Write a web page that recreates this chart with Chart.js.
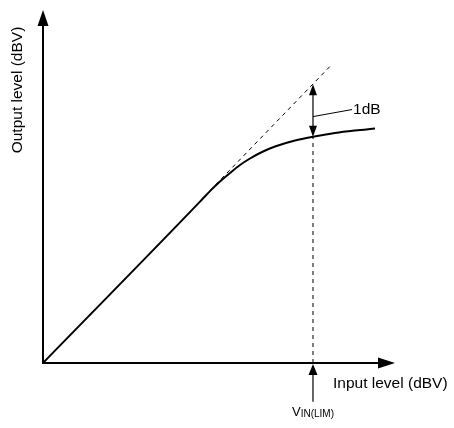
<!DOCTYPE html>
<html>
<head>
<meta charset="utf-8">
<script src="https://cdn.jsdelivr.net/npm/chart.js@4/dist/chart.umd.min.js"></script>
<style>
html,body{margin:0;padding:0;background:#fff;}
#wrap{width:454px;height:428px;}
</style>
</head>
<body>
<div id="wrap"><canvas id="c" width="454" height="428"></canvas></div>
<script>
// Transfer curve (arbitrary dB units)
const inputLevel  = [0, 44.6, 47.44, 50.28, 53.13, 55.97, 58.81, 62.22, 65.91, 71.59, 76.7, 82.95, 88.64, 94.32];
const outputLevel = [0, 45.7, 48.7, 51.41, 53.82, 56.09, 57.93, 59.77, 61.33, 63.03, 64.1, 65.16, 65.86, 66.43];
// Ideal (linear) extrapolation
const idealInput  = [47.5, 81.5];
const idealOutput = [48.9, 84.0];
// 1dB compression point
const limitInput = 76.7;
const limitOutput = 64.1;
const limitIdeal = 79.0;
const axisLabels = { x: 'Input level (dBV)', y: 'Output level (dBV)' };
const markLabel = '1dB';
const limitLabelMain = 'V';
const limitLabelSub = 'IN(LIM)';
const leaderStart = [76.7, 69.8];
const leaderEnd = [87.8, 71.8];
const bottomArrowEnd = -11;

const FONT = '"Liberation Sans", Arial, sans-serif';

function arrowHead(ctx, tx, ty, dx, dy, len, half) {
  const bx = tx - dx * len, by = ty - dy * len;
  const px = -dy, py = dx;
  ctx.beginPath();
  ctx.moveTo(tx, ty);
  ctx.lineTo(bx + px * half, by + py * half);
  ctx.lineTo(bx - px * half, by - py * half);
  ctx.closePath();
  ctx.fill();
}

const annot = {
  id: 'annot',
  afterDatasetsDraw(chart) {
    const ctx = chart.ctx;
    const xs = chart.scales.x, ys = chart.scales.y;
    const X = v => xs.getPixelForValue(v), Y = v => ys.getPixelForValue(v);
    ctx.save();
    ctx.strokeStyle = '#000';
    ctx.fillStyle = '#000';
    ctx.setLineDash([]);
    // axes
    const x0 = X(0), y0 = Y(0), xTip = X(xs.max), yTip = Y(ys.max);
    ctx.lineWidth = 2;
    ctx.beginPath();
    ctx.moveTo(x0, y0); ctx.lineTo(x0, yTip + 10);
    ctx.moveTo(x0 - 1, y0); ctx.lineTo(xTip - 10, y0);
    ctx.stroke();
    arrowHead(ctx, x0, yTip, 0, -1, 16, 5.5);
    arrowHead(ctx, xTip, y0, 1, 0, 17, 5.5);

    // double arrow for 1dB
    const lx = X(limitInput);
    const yTop = Y(limitIdeal), yBot = Y(limitOutput);
    ctx.lineWidth = 1.2;
    ctx.beginPath();
    ctx.moveTo(lx, yTop + 8); ctx.lineTo(lx, yBot - 8);
    ctx.stroke();
    arrowHead(ctx, lx, yTop, 0, -1, 11, 4);
    arrowHead(ctx, lx, yBot, 0, 1, 11, 4);

    // leader line
    ctx.lineWidth = 1;
    ctx.beginPath();
    ctx.moveTo(X(leaderStart[0]), Y(leaderStart[1]));
    ctx.lineTo(X(leaderEnd[0]), Y(leaderEnd[1]));
    ctx.stroke();

    // bottom arrow
    const yb = Y(bottomArrowEnd);
    ctx.lineWidth = 1.2;
    ctx.beginPath();
    ctx.moveTo(lx, yb); ctx.lineTo(lx, y0 + 8);
    ctx.stroke();
    arrowHead(ctx, lx, y0 + 1, 0, -1, 11, 4.5);

    // texts
    ctx.textBaseline = 'middle';
    ctx.font = '15.5px ' + FONT;
    ctx.textAlign = 'left';
    ctx.fillText(markLabel, X(leaderEnd[0]) + 1, Y(leaderEnd[1]));
    ctx.fillText(axisLabels.x, 333, y0 + 21);

    ctx.save();
    ctx.translate(18, 90);
    ctx.rotate(-Math.PI / 2);
    ctx.textAlign = 'center';
    ctx.fillText(axisLabels.y, 0, 0);
    ctx.restore();

    // V IN(LIM)
    ctx.textBaseline = 'alphabetic';
    ctx.font = '13px ' + FONT;
    const wMain = ctx.measureText(limitLabelMain).width;
    ctx.font = '10px ' + FONT;
    const wSub = ctx.measureText(limitLabelSub).width;
    const startX = lx - (wMain + wSub) / 2;
    ctx.font = '13px ' + FONT;
    ctx.fillText(limitLabelMain, startX, yb + 14);
    ctx.font = '10px ' + FONT;
    ctx.fillText(limitLabelSub, startX + wMain, yb + 15);
    ctx.restore();
  }
};

new Chart(document.getElementById('c'), {
  type: 'line',
  data: {
    datasets: [
      {
        data: inputLevel.map((x, i) => ({ x, y: outputLevel[i] })),
        borderColor: '#000', borderWidth: 2, pointRadius: 0,
        cubicInterpolationMode: 'monotone', clip: false
      },
      {
        data: idealInput.map((x, i) => ({ x, y: idealOutput[i] })),
        borderColor: '#000', borderWidth: 1, borderDash: [4, 4], pointRadius: 0, clip: false
      },
      {
        data: [{ x: limitInput, y: 0 }, { x: limitInput, y: limitOutput }],
        borderColor: '#000', borderWidth: 1, borderDash: [4, 4], pointRadius: 0, clip: false
      }
    ]
  },
  options: {
    responsive: false,
    animation: false,
    events: [],
    layout: { padding: { left: 43, right: 59, top: 10, bottom: 65 } },
    plugins: { legend: { display: false }, tooltip: { enabled: false } },
    scales: {
      x: { type: 'linear', min: 0, max: 100, display: false },
      y: { type: 'linear', min: 0, max: 100, display: false }
    }
  },
  plugins: [annot]
});
</script>
</body>
</html>
